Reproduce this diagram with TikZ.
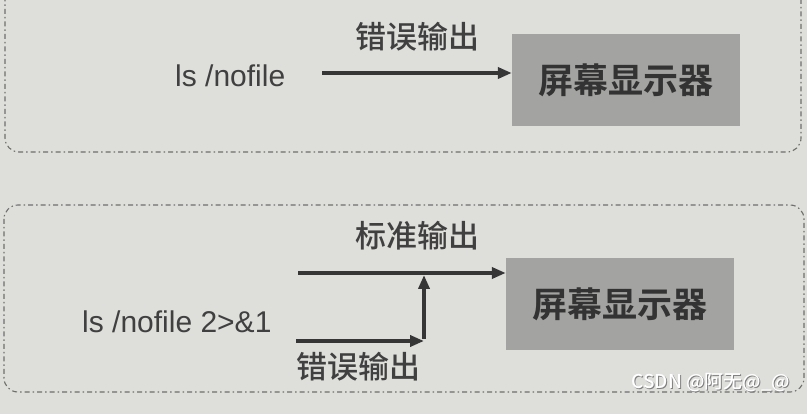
\documentclass[tikz,border=0pt]{standalone}
\usepackage{fontspec}
\setmainfont{Liberation Sans}
\newfontfamily\cjk{Noto Sans CJK SC Medium}
\newfontfamily\cjkbold{Noto Sans CJK SC Bold}
\usetikzlibrary{arrows.meta}
\definecolor{paper}{HTML}{DEDEDA}
\definecolor{ink}{HTML}{404040}
\definecolor{scr}{HTML}{A3A3A1}
\definecolor{frame}{HTML}{6E6E6E}
\begin{document}
\begin{tikzpicture}[x=1pt,y=-1pt,
  panel/.style={draw=frame, line width=1.1pt, rounded corners=14pt, dash pattern=on 5pt off 3pt on 1.5pt off 3pt},
  screen/.style={fill=scr, draw=none, minimum width=228pt, minimum height=92pt, inner sep=0pt, text=ink!80!black, font=\cjkbold\fontsize{35}{35}\selectfont},
  cmd/.style={text=ink, inner sep=0pt, font=\fontsize{30}{30}\selectfont},
  lbl/.style={text=ink, inner sep=0pt, font=\cjk\fontsize{31}{31}\selectfont},
  wire/.style={draw=ink!85!black, line width=4pt},
  arr/.style={wire, -{Triangle[length=14pt,width=11pt]}}
]
\fill[paper] (0,0) rectangle (807,414);
\useasboundingbox (0,0) rectangle (807,414);
% panels
\draw[panel] (5,-30) rectangle (801,152);
\draw[panel] (4,205) rectangle (804,392);
% top panel
\node[screen] (screen1) at (626,80) {屏幕显示器};
\node[cmd, anchor=west] (cmd1) at (175,76) {ls /nofile};
\node[lbl] (err1) at (417,37) {错误输出};
\coordinate (s1) at (322,73);
\draw[arr] (s1) -- (s1 -| screen1.west);
% bottom panel
\node[screen] (screen2) at (620,304) {屏幕显示器};
\node[cmd, anchor=west] (cmd2) at (82,322) {ls /nofile 2>\&1};
\node[lbl] (std2) at (417,236) {标准输出};
\node[lbl] (err2) at (358,367) {错误输出};
\coordinate (s2) at (298,273);
\coordinate (e2) at (298,341);
\coordinate (j2) at (424,341);
\draw[arr] (s2) -- (s2 -| screen2.west);
\draw[arr] ([xshift=-2pt]e2) -- (j2);
\draw[arr, shorten >=2pt] ([yshift=2pt]j2) -- (j2 |- s2);
% watermark
\node[text=gray, inner sep=0pt, font=\cjk\fontsize{19}{19}\selectfont] (wmshadow) at (712,384) {CSDN @阿无@\_@};
\node[text=white, inner sep=0pt, font=\cjk\fontsize{19}{19}\selectfont] (wm) at (711,383) {CSDN @阿无@\_@};
\end{tikzpicture}
\end{document}
